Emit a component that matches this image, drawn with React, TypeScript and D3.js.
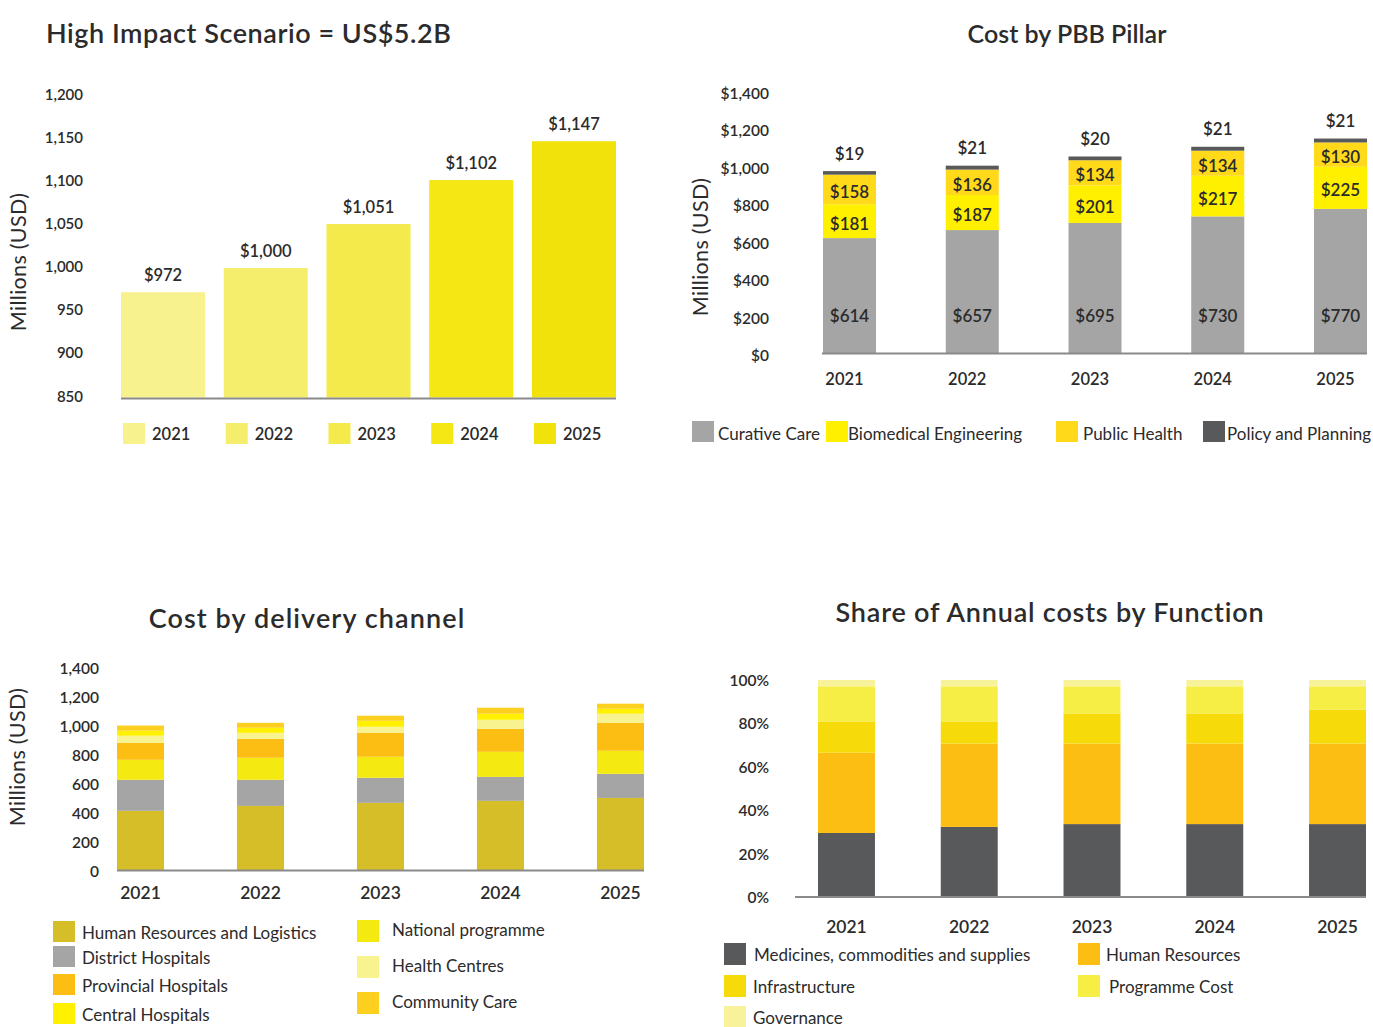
import React from "react";
import * as d3 from "d3";

// ---------- shared ----------
const years = ["2021", "2022", "2023", "2024", "2025"];

// ---------- Chart 1: High Impact Scenario ----------
const scenarioTotals = [972, 1000, 1051, 1102, 1147];
const scenarioTicks = [850, 900, 950, 1000, 1050, 1100, 1150, 1200];
const scenarioColors = ["#F7F18E", "#F5EE6C", "#F4EA4B", "#F4E714", "#F1E20B"];

// ---------- Chart 2: Cost by PBB Pillar ----------
const pillarNames = ["Curative Care", "Biomedical Engineering", "Public Health", "Policy and Planning"];
const curativeCare = [614, 657, 695, 730, 770];
const biomedicalEngineering = [181, 187, 201, 217, 225];
const publicHealth = [158, 136, 134, 134, 130];
const policyPlanning = [19, 21, 20, 21, 21];
const pillarColors = ["#A5A5A5", "#FFF000", "#FFD91A", "#58595B"];
const pillarTicks = [0, 200, 400, 600, 800, 1000, 1200, 1400];

// ---------- Chart 3: Cost by delivery channel ----------
const channelNames = [
  "Human Resources and Logistics",
  "District Hospitals",
  "National programme",
  "Provincial Hospitals",
  "Health Centres",
  "Central Hospitals",
  "Community Care",
];
const hrLogistics = [408, 442, 463, 477, 497];
const districtHospitals = [214, 180, 173, 165, 166];
const nationalProgramme = [138, 152, 145, 173, 159];
const provincialHospitals = [117, 131, 165, 159, 193];
const healthCentres = [49, 41, 42, 62, 63];
const centralHospitals = [35, 35, 41, 42, 34];
const communityCare = [35, 34, 35, 41, 35];
const channelColors = ["#D5BE27", "#A5A5A5", "#F5E912", "#FDBE14", "#F8F28F", "#FFF100", "#FDCF1E"];
const channelTicks = [0, 200, 400, 600, 800, 1000, 1200, 1400];
const channelLegendLeft = ["Human Resources and Logistics", "District Hospitals", "Provincial Hospitals", "Central Hospitals"];
const channelLegendRight = ["National programme", "Health Centres", "Community Care"];

// ---------- Chart 4: Share of Annual costs by Function ----------
const functionNames = ["Medicines, commodities and supplies", "Human Resources", "Infrastructure", "Programme Cost", "Governance"];
const medicines = [29.5, 32.3, 33.6, 33.6, 33.6];
const humanResources = [37.0, 38.4, 37.1, 37.1, 37.1];
const infrastructure = [14.4, 10.2, 13.9, 13.9, 15.7];
const programmeCost = [16.2, 16.2, 12.5, 12.5, 10.7];
const governance = [2.9, 2.9, 2.9, 2.9, 2.9];
const functionColors = ["#58595B", "#FDBE14", "#F7DA0A", "#F6EE45", "#F8F39B"];
const shareTicks = [0, 20, 40, 60, 80, 100];

const FONT = "Lato, 'Open Sans', 'Noto Sans', sans-serif";
const TXT = "#2b2b2b";
const AXIS = "#8a8a8a";
const LEG = 17;

function buildRows(names: string[], series: number[][]) {
  return years.map((year, i) => {
    const row: any = { year };
    names.forEach((n, k) => (row[n] = series[k][i]));
    return row;
  });
}

const fmtMoney = (v: number) => "$" + d3.format(",")(v);

function YTitle({ x, y }: { x: number; y: number }) {
  return (
    <text transform={`translate(${x},${y}) rotate(-90)`} textAnchor="middle" dominantBaseline="central" fontSize={21.5} letterSpacing={0.3} fill={TXT}>
      Millions (USD)
    </text>
  );
}

function ChartScenario() {
  const x = d3.scaleBand<string>().domain(years).range([121, 616]).paddingInner(0.182);
  const y = d3.scaleLinear().domain([850, 1200]).range([397.5, 95.5]);
  return (
    <g>
      <text x={46} y={32} dominantBaseline="central" fontSize={27} fontWeight={600} letterSpacing={0.55} fill={TXT}>
        High Impact Scenario = US$5.2B
      </text>
      <YTitle x={18} y={262} />
      {scenarioTicks.map((t) => (
        <text key={t} x={83} y={y(t) - 2} textAnchor="end" dominantBaseline="central" fontSize={15} fontWeight={600} fill={TXT}>
          {d3.format(",")(t)}
        </text>
      ))}
      {years.map((yr, i) => (
        <rect key={yr} x={x(yr)} y={y(scenarioTotals[i])} width={x.bandwidth()} height={y(850) - y(scenarioTotals[i])} fill={scenarioColors[i]} />
      ))}
      <line x1={121} x2={616} y1={398.5} y2={398.5} stroke={AXIS} strokeWidth={2} />
      {years.map((yr, i) => (
        <text key={yr} x={(x(yr) as number) + x.bandwidth() / 2} y={y(scenarioTotals[i]) - 17} textAnchor="middle" dominantBaseline="central" fontSize={16.5} fontWeight={600} fill={TXT}>
          {fmtMoney(scenarioTotals[i])}
        </text>
      ))}
      {years.map((yr, i) => (
        <g key={yr}>
          <rect x={(x(yr) as number) + 2} y={423} width={22} height={21} fill={scenarioColors[i]} />
          <text x={(x(yr) as number) + 31} y={434} dominantBaseline="central" fontSize={16.5} fontWeight={600} fill={TXT}>
            {yr}
          </text>
        </g>
      ))}
    </g>
  );
}

function ChartPillar() {
  const rows = buildRows(pillarNames, [curativeCare, biomedicalEngineering, publicHealth, policyPlanning]);
  const stack = d3.stack<any>().keys(pillarNames)(rows);
  const x = d3.scaleBand<string>().domain(years).range([823, 1367]).paddingInner(0.568);
  const y = d3.scaleLinear().domain([0, 1400]).range([353, 91]);
  const legendX = [692, 826, 1056, 1203];
  const legendTextX = [718, 848, 1083, 1227];
  return (
    <g>
      <text x={1067} y={33} textAnchor="middle" dominantBaseline="central" fontSize={25} fontWeight={600} fill={TXT}>
        Cost by PBB Pillar
      </text>
      <YTitle x={700} y={247} />
      {pillarTicks.map((t) => (
        <text key={t} x={769} y={y(t) + 2} textAnchor="end" dominantBaseline="central" fontSize={15.5} fontWeight={600} fill={TXT}>
          {fmtMoney(t)}
        </text>
      ))}
      {stack.map((layer, k) => (
        <g key={layer.key} fill={pillarColors[k]}>
          {layer.map((d: any) => (
            <rect key={d.data.year} x={x(d.data.year)} y={y(d[1])} width={x.bandwidth()} height={y(d[0]) - y(d[1])} />
          ))}
        </g>
      ))}
      <line x1={822} x2={1367} y1={353.5} y2={353.5} stroke={AXIS} strokeWidth={2} />
      {stack.map((layer, k) =>
        layer.map((d: any) => {
          const cx = (x(d.data.year) as number) + x.bandwidth() / 2;
          const v = d[1] - d[0];
          let cy: number;
          if (k === 0) cy = y(200);
          else if (k === 3) cy = y(d[1]) - 18;
          else cy = y((d[0] + d[1]) / 2) + 2;
          return (
            <text key={layer.key + d.data.year} x={cx} y={cy} textAnchor="middle" dominantBaseline="central" fontSize={17} fontWeight={600} fill={TXT}>
              {fmtMoney(v)}
            </text>
          );
        })
      )}
      {years.map((yr) => (
        <text key={yr} x={(x(yr) as number) + x.bandwidth() / 2 - 5} y={379} textAnchor="middle" dominantBaseline="central" fontSize={16.5} fontWeight={600} fill={TXT}>
          {yr}
        </text>
      ))}
      {pillarNames.map((n, k) => (
        <g key={n}>
          <rect x={legendX[k]} y={421} width={22} height={21} fill={pillarColors[k]} />
          <text x={legendTextX[k]} y={433} dominantBaseline="central" fontSize={LEG} fill={TXT}>
            {n}
          </text>
        </g>
      ))}
    </g>
  );
}

function ChartChannel() {
  const rows = buildRows(channelNames, [hrLogistics, districtHospitals, nationalProgramme, provincialHospitals, healthCentres, centralHospitals, communityCare]);
  const stack = d3.stack<any>().keys(channelNames)(rows);
  const x = d3.scaleBand<string>().domain(years).range([117, 644]).paddingInner(0.608);
  const y = d3.scaleLinear().domain([0, 1400]).range([870, 667]);
  const colorOf = (n: string) => channelColors[channelNames.indexOf(n)];
  const leftY = [932, 957, 985, 1014];
  const rightY = [929, 965, 1001];
  return (
    <g>
      <text x={307} y={617} textAnchor="middle" dominantBaseline="central" fontSize={27} fontWeight={600} letterSpacing={1.1} fill={TXT}>
        Cost by delivery channel
      </text>
      <YTitle x={17} y={757} />
      {channelTicks.map((t) => (
        <text key={t} x={99} y={y(t) + 1} textAnchor="end" dominantBaseline="central" fontSize={15.5} fontWeight={600} fill={TXT}>
          {d3.format(",")(t)}
        </text>
      ))}
      {stack.map((layer, k) => (
        <g key={layer.key} fill={channelColors[k]}>
          {layer.map((d: any) => (
            <rect key={d.data.year} x={x(d.data.year)} y={y(d[1])} width={x.bandwidth()} height={y(d[0]) - y(d[1])} />
          ))}
        </g>
      ))}
      <line x1={117} x2={644} y1={870.5} y2={870.5} stroke={AXIS} strokeWidth={2} />
      {years.map((yr) => (
        <text key={yr} x={(x(yr) as number) + x.bandwidth() / 2} y={892} textAnchor="middle" dominantBaseline="central" fontSize={17.5} fontWeight={600} fill={TXT}>
          {yr}
        </text>
      ))}
      {channelLegendLeft.map((n, i) => (
        <g key={n}>
          <rect x={53} y={leftY[i] - 11} width={22} height={21} fill={colorOf(n)} />
          <text x={82} y={leftY[i]} dominantBaseline="central" fontSize={LEG} fill={TXT}>
            {n}
          </text>
        </g>
      ))}
      {channelLegendRight.map((n, i) => (
        <g key={n}>
          <rect x={357} y={rightY[i] - 9} width={22} height={22} fill={colorOf(n)} />
          <text x={392} y={rightY[i]} dominantBaseline="central" fontSize={LEG} fill={TXT}>
            {n}
          </text>
        </g>
      ))}
    </g>
  );
}

function ChartFunction() {
  const rows = buildRows(functionNames, [medicines, humanResources, infrastructure, programmeCost, governance]);
  const stack = d3.stack<any>().keys(functionNames)(rows);
  const x = d3.scaleBand<string>().domain(years).range([818, 1366]).paddingInner(0.536);
  const y = d3.scaleLinear().domain([0, 100]).range([897, 680]);
  const legendPos = [
    [724, 954, 754],
    [1078, 954, 1106],
    [724, 986, 753],
    [1078, 986, 1109],
    [724, 1017, 753],
  ];
  return (
    <g>
      <text x={1050} y={611} textAnchor="middle" dominantBaseline="central" fontSize={27} fontWeight={600} letterSpacing={0.8} fill={TXT}>
        Share of Annual costs by Function
      </text>
      {shareTicks.map((t) => (
        <text key={t} x={769} y={y(t)} textAnchor="end" dominantBaseline="central" fontSize={15.5} fontWeight={600} fill={TXT}>
          {t + "%"}
        </text>
      ))}
      {stack.map((layer, k) => (
        <g key={layer.key} fill={functionColors[k]}>
          {layer.map((d: any) => (
            <rect key={d.data.year} x={x(d.data.year)} y={y(d[1])} width={x.bandwidth()} height={y(d[0]) - y(d[1])} />
          ))}
        </g>
      ))}
      <line x1={795} x2={1366} y1={897} y2={897} stroke={AXIS} strokeWidth={2} />
      {years.map((yr) => (
        <text key={yr} x={(x(yr) as number) + x.bandwidth() / 2} y={926} textAnchor="middle" dominantBaseline="central" fontSize={17.5} fontWeight={600} fill={TXT}>
          {yr}
        </text>
      ))}
      {functionNames.map((n, k) => (
        <g key={n}>
          <rect x={legendPos[k][0]} y={legendPos[k][1] - 11} width={22} height={22} fill={functionColors[k]} />
          <text x={legendPos[k][2]} y={legendPos[k][1]} dominantBaseline="central" fontSize={LEG} fill={TXT}>
            {n}
          </text>
        </g>
      ))}
    </g>
  );
}

export default function App() {
  return (
    <svg
      width={1373}
      height={1027}
      style={{ position: "absolute", left: 0, top: 0, background: "#fff" }}
      fontFamily={FONT}
    >
      <rect width={1373} height={1027} fill="#fff" />
      <ChartScenario />
      <ChartPillar />
      <ChartChannel />
      <ChartFunction />
    </svg>
  );
}
